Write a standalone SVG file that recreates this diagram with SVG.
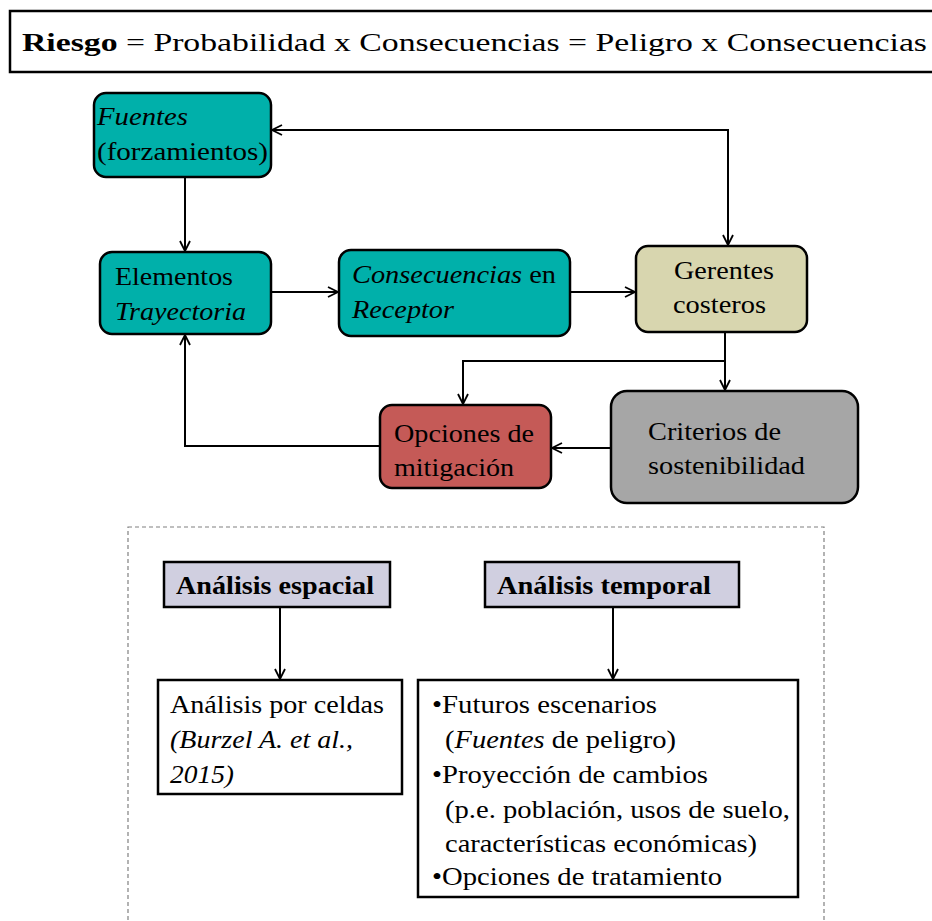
<svg xmlns="http://www.w3.org/2000/svg" width="932" height="921" viewBox="0 0 932 921">
<style>
text{font-family:'Liberation Serif',Tinos,'Times New Roman',Times,serif;font-size:26px;fill:#000}
.it{font-style:italic}
.b{font-weight:bold}
.node{stroke:#000;stroke-width:2.5}
.teal{fill:#00B0AA}
.conn{fill:none;stroke:#000;stroke-width:2}
</style>
<defs>
<marker id="ah" viewBox="0 0 12 12" refX="11" refY="6" markerWidth="12" markerHeight="12" markerUnits="userSpaceOnUse" orient="auto-start-reverse">
<path d="M1,1 L11,6 L1,11" fill="none" stroke="#000" stroke-width="1.8"/>
</marker>
</defs>
<rect width="932" height="921" fill="#fff"/>

<g id="title">
<rect x="10" y="11" width="930" height="61" fill="#fff" stroke="#000" stroke-width="2.5"/>
<text x="22" y="51" font-size="30" textLength="905" lengthAdjust="spacingAndGlyphs"><tspan class="b">Riesgo</tspan> = Probabilidad  x  Consecuencias = Peligro x  Consecuencias</text>
</g>

<g id="connectors">
<line class="conn" x1="185" y1="177" x2="185" y2="251" marker-end="url(#ah)"/>
<line class="conn" x1="271" y1="292" x2="338" y2="292" marker-end="url(#ah)"/>
<line class="conn" x1="570" y1="292" x2="635" y2="292" marker-end="url(#ah)"/>
<polyline class="conn" points="272,130 728,130 728,245" marker-start="url(#ah)" marker-end="url(#ah)"/>
<line class="conn" x1="725" y1="332" x2="725" y2="390" marker-end="url(#ah)"/>
<polyline class="conn" points="725,361 463,361 463,404" marker-end="url(#ah)"/>
<line class="conn" x1="611" y1="448" x2="552" y2="448" marker-end="url(#ah)"/>
<polyline class="conn" points="380,446 185,446 185,335" marker-end="url(#ah)"/>
<line class="conn" x1="280" y1="607" x2="280" y2="679" marker-end="url(#ah)"/>
<line class="conn" x1="613" y1="607" x2="613" y2="679" marker-end="url(#ah)"/>
</g>

<g id="fuentes">
<rect class="node teal" x="94" y="93" width="177" height="84" rx="12"/>
<text class="it" x="97" y="125" textLength="91" lengthAdjust="spacingAndGlyphs">Fuentes</text>
<text x="97" y="160" textLength="171" lengthAdjust="spacingAndGlyphs">(forzamientos)</text>
</g>

<g id="elementos">
<rect class="node teal" x="100" y="252" width="171" height="82" rx="12"/>
<text x="115" y="285" textLength="118" lengthAdjust="spacingAndGlyphs">Elementos</text>
<text class="it" x="115" y="320" textLength="131" lengthAdjust="spacingAndGlyphs">Trayectoria</text>
</g>

<g id="consecuencias">
<rect class="node teal" x="339" y="250" width="231" height="86" rx="12"/>
<text x="352" y="283" textLength="204" lengthAdjust="spacingAndGlyphs"><tspan class="it">Consecuencias</tspan> en</text>
<text class="it" x="352" y="318" textLength="102" lengthAdjust="spacingAndGlyphs">Receptor</text>
</g>

<g id="gerentes">
<rect class="node" x="636" y="246" width="171" height="86" rx="12" fill="#D8D6AF"/>
<text x="674" y="279" textLength="100" lengthAdjust="spacingAndGlyphs">Gerentes</text>
<text x="673" y="313" textLength="93" lengthAdjust="spacingAndGlyphs">costeros</text>
</g>

<g id="criterios">
<rect class="node" x="611" y="391" width="247" height="112" rx="16" fill="#A6A6A6"/>
<text x="648" y="440" textLength="133" lengthAdjust="spacingAndGlyphs">Criterios de</text>
<text x="648" y="474" textLength="157" lengthAdjust="spacingAndGlyphs">sostenibilidad</text>
</g>

<g id="opciones">
<rect class="node" x="380" y="405" width="171" height="83" rx="12" fill="#C55A57"/>
<text x="394" y="442" textLength="140" lengthAdjust="spacingAndGlyphs">Opciones de</text>
<text x="394" y="476" textLength="120" lengthAdjust="spacingAndGlyphs">mitigación</text>
</g>

<g id="analisis-frame">
<rect x="128" y="527" width="696" height="400" fill="none" stroke="#808080" stroke-width="1.2" stroke-dasharray="4,3"/>
</g>

<g id="espacial">
<rect x="164" y="562" width="226" height="45" fill="#D0CFE0" stroke="#000" stroke-width="2.5"/>
<text class="b" x="176" y="594" font-size="25" textLength="198" lengthAdjust="spacingAndGlyphs">Análisis espacial</text>
</g>

<g id="temporal">
<rect x="485" y="562" width="254" height="45" fill="#D0CFE0" stroke="#000" stroke-width="2.5"/>
<text class="b" x="497" y="594" font-size="25" textLength="214" lengthAdjust="spacingAndGlyphs">Análisis temporal</text>
</g>

<g id="celdas">
<rect x="158" y="680" width="244" height="114" fill="#fff" stroke="#000" stroke-width="2.5"/>
<text x="170" y="713" textLength="214" lengthAdjust="spacingAndGlyphs">Análisis por celdas</text>
<text class="it" x="170" y="748" textLength="183" lengthAdjust="spacingAndGlyphs">(Burzel A. et al.,</text>
<text class="it" x="170" y="783" textLength="64" lengthAdjust="spacingAndGlyphs">2015)</text>
</g>

<g id="lista-temporal">
<rect x="418" y="680" width="380" height="217" fill="#fff" stroke="#000" stroke-width="2.5"/>
<text x="432" y="713" textLength="225" lengthAdjust="spacingAndGlyphs">•Futuros escenarios</text>
<text x="445" y="748" textLength="231" lengthAdjust="spacingAndGlyphs">(<tspan class="it">Fuentes</tspan> de peligro)</text>
<text x="432" y="783" textLength="276" lengthAdjust="spacingAndGlyphs">•Proyección de cambios</text>
<text x="445" y="818" textLength="345" lengthAdjust="spacingAndGlyphs">(p.e. población, usos de suelo,</text>
<text x="445" y="852" textLength="312" lengthAdjust="spacingAndGlyphs">características económicas)</text>
<text x="432" y="885" textLength="290" lengthAdjust="spacingAndGlyphs">•Opciones de tratamiento</text>
</g>
</svg>
